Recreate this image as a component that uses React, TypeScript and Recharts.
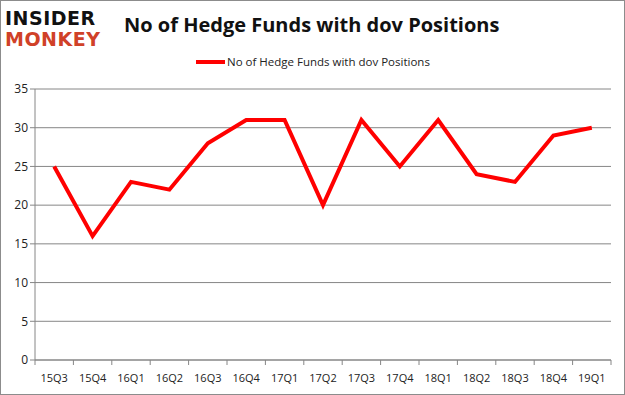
import { LineChart, Line, XAxis, YAxis, CartesianGrid } from "recharts";

const quarters = ["15Q3", "15Q4", "16Q1", "16Q2", "16Q3", "16Q4", "17Q1", "17Q2", "17Q3", "17Q4", "18Q1", "18Q2", "18Q3", "18Q4", "19Q1"];
const funds = [25, 16, 23, 22, 28, 31, 31, 20, 31, 25, 31, 24, 23, 29, 30];
const yTicks = [0, 5, 10, 15, 20, 25, 30, 35];

const data = quarters.map((q, i) => ({ q, funds: funds[i] }));

const W = 625;
const H = 395;
const left = 35;
const right = 14;
const band = (W - left - right) / quarters.length;
const font = "'Open Sans', 'DejaVu Sans', sans-serif";

function QuarterTick(props: any) {
  const { x, y, payload, index } = props;
  return (
    <g>
      <line x1={x - band / 2} y1={y - 8} x2={x - band / 2} y2={y - 3} stroke="#868686" />
      {index === quarters.length - 1 && (
        <line x1={x + band / 2} y1={y - 8} x2={x + band / 2} y2={y - 3} stroke="#868686" />
      )}
      <text x={x} y={y + 14} textAnchor="middle" fontSize={11} fill="#222" fontFamily={font}>
        {payload.value}
      </text>
    </g>
  );
}

export default function App() {
  return (
    <div style={{ position: "relative", width: W, height: H, background: "#fff", overflow: "hidden" }}>
      <style>{"body{margin:0}"}</style>
      <div style={{ position: "absolute", inset: 0, border: "1px solid #8c8c8c", boxSizing: "border-box", pointerEvents: "none", zIndex: 2 }} />
      <div style={{ position: "absolute", left: 5, top: 8, fontFamily: "'DejaVu Sans', sans-serif", fontWeight: 900, lineHeight: "21px" }}>
        <div style={{ color: "#111", fontSize: 19, letterSpacing: 0.5 }}>INSIDER</div>
        <div style={{ color: "#d04128", fontSize: 19, letterSpacing: 0.5 }}>MONKEY</div>
      </div>
      <div style={{ position: "absolute", left: 124, top: 11, fontFamily: "'Open Sans', sans-serif", fontWeight: 700, fontSize: 20, color: "#111", whiteSpace: "nowrap" }}>
        No of Hedge Funds with dov Positions
      </div>
      <div style={{ position: "absolute", left: 196, top: 54, display: "flex", alignItems: "center", fontFamily: font, fontSize: 11.5, color: "#222" }}>
        <span style={{ display: "inline-block", width: 29, height: 4, background: "#ff0000", marginRight: 2 }} />
        No of Hedge Funds with dov Positions
      </div>
      <div style={{ position: "absolute", left: 0, top: 0 }}>
        <LineChart width={W} height={H} data={data} margin={{ top: 89, right: right, bottom: 10, left: 0 }}>
          <CartesianGrid vertical={false} stroke="#868686" />
          <XAxis
            dataKey="q"
            tickLine={false}
            stroke="#868686"
            tick={<QuarterTick />}
            height={25}
            interval={0}
            padding={{ left: band / 2, right: band / 2 }}
          />
          <YAxis
            domain={[0, 35]}
            ticks={yTicks}
            width={35}
            stroke="#868686"
            tickSize={5}
            tick={{ fontSize: 12, fill: "#222", fontFamily: font }}
          />
          <Line type="linear" dataKey="funds" stroke="#ff0000" strokeWidth={4} dot={false} isAnimationActive={false} />
        </LineChart>
      </div>
    </div>
  );
}
